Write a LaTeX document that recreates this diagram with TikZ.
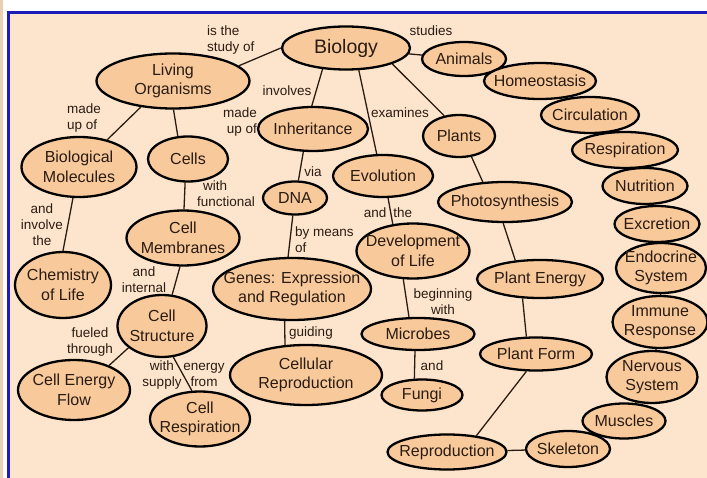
\documentclass[tikz,border=0pt]{standalone}
\usepackage{fontspec}
\setmainfont{Liberation Sans}
\usetikzlibrary{shapes.geometric}

\definecolor{paper}{HTML}{FDE5CD}
\definecolor{conceptfill}{HTML}{F8C99B}
\definecolor{ink}{HTML}{2A1C12}
\definecolor{rule}{HTML}{1C1CB8}
\definecolor{edgetan}{HTML}{E9CFB4}

\pgfdeclarelayer{bg}
\pgfdeclarelayer{links}
\pgfsetlayers{bg,links,main}

\tikzset{
  concept/.style={ellipse, draw=black, line width=2.3pt, fill=conceptfill, inner sep=0pt},
  ctext/.style={font=\fontsize{16}{19.5}\selectfont, text=ink, align=center, inner sep=0pt},
  linktext/.style={font=\fontsize{13.5}{16}\selectfont, text=ink, align=center, inner sep=0pt},
  link/.style={draw=ink, line width=1.3pt},
}

% concept ellipse: name, centre, width, height, text
\newcommand\conc[5]{\node[concept, minimum width=#3, minimum height=#4,
  label={[ctext]center:#5}] (#1) at (#2) {};}

\begin{document}
\begin{tikzpicture}[x=1pt, y=-1pt]
\useasboundingbox (0,0) rectangle (707,478);

% page and frame
\begin{pgfonlayer}{bg}
  \fill[white] (0,0) rectangle (707,478);
  \fill[edgetan] (0,0) rectangle (3,478);
  \fill[paper] (8,12) rectangle (707,478);
  \draw[rule, line width=3pt] (8.5,12.5) -- (707,12.5);
  \draw[rule, line width=3pt] (8.5,11) -- (8.5,478);
\end{pgfonlayer}

% concepts
\node[concept, minimum width=128, minimum height=43,
  label={[ctext, font=\fontsize{19.5}{22}\selectfont]center:Biology}] (bio) at (346,48) {};
\conc{liv}{173,81}{153}{55}{Living\\Organisms}
\conc{ani}{464,59}{84}{34}{Animals}
\conc{hom}{540,81}{112}{36}{Homeostasis}
\conc{cir}{590,115}{98}{36}{Circulation}
\conc{res}{625,150}{106}{36}{Respiration}
\conc{nut}{645,186}{85}{36}{Nutrition}
\conc{exc}{657,224}{85}{36}{Excretion}
\conc{endo}{661,268}{90}{50}{Endocrine\\System}
\conc{imm}{660,322}{95}{52}{Immune\\Response}
\conc{ner}{652,377}{91}{52}{Nervous\\System}
\conc{mus}{624,421}{83}{35}{Muscles}
\conc{ske}{568,449}{84}{36}{Skeleton}
\conc{rep}{447,452}{119}{35}{Reproduction}
\conc{pfo}{536,354}{112}{33}{Plant Form}
\conc{pen}{540,279}{126}{38}{Plant Energy}
\conc{pho}{505,202}{134}{40}{Photosynthesis}
\conc{pla}{459,136}{72}{42}{Plants}
\conc{evo}{383,176}{100}{42}{Evolution}
\conc{dev}{413,251}{113}{55}{Development\\of Life}
\conc{mic}{418,334}{113}{32}{Microbes}
\conc{fun}{422,395}{81}{31}{Fungi}
\conc{inh}{313,129}{110}{44}{Inheritance}
\conc{dna}{295,198}{64}{33}{DNA}
\conc{gen}{292,289}{158}{62}{Genes: Expression\\and Regulation}
\conc{cre}{306,375}{152}{60}{Cellular\\Reproduction}
\conc{cel}{188,159}{80}{45}{Cells}
\conc{mem}{183,238}{113}{55}{Cell\\Membranes}
\conc{bmo}{79,167}{115}{60}{Biological\\Molecules}
\conc{che}{63,285}{96}{66}{Chemistry\\of Life}
\conc{cst}{162,326}{89}{62}{Cell\\Structure}
\conc{cef}{74,390}{112}{60}{Cell Energy\\Flow}
\conc{crs}{200,419}{100}{55}{Cell\\Respiration}

% linking phrases
\node[linktext, align=left, anchor=west] (t1) at (207,40) {is the\\study of};
\node[linktext] (t2) at (431,31) {studies};
\node[linktext] (t3) at (287,91) {involves};
\node[linktext] (t4) at (400,113) {examines};
\node[linktext, align=left, anchor=west] (t5) at (67,118) {made\\up of};
\node[linktext, align=right, anchor=east] (t6) at (257,122) {made\\up of};
\node[linktext, align=left, anchor=west] (t7) at (197,194) {\hspace*{6pt}with\\functional};
\node[linktext] (t8) at (42,225) {and\\involve\\the};
\node[linktext] (t9) at (144,280) {and\\internal};
\node[linktext] (t10) at (90,342) {fueled\\through};
\node[linktext] (t11) at (162,375) {with\\supply};
\node[linktext] (t12) at (204,375) {energy\\from};
\node[linktext] (t13) at (313,172) {via};
\node[linktext, align=left, anchor=west] (t14) at (295,240) {by means\\of};
\node[linktext] (t15) at (311,333) {guiding};
\node[linktext] (t16) at (388,213) {and\hspace{7pt}the};
\node[linktext] (t17) at (443,302) {beginning\\with};
\node[linktext] (t18) at (432,366) {and};

% connectors
\begin{pgfonlayer}{links}
  \draw[link] (bio.west) -- (liv.13);
  \draw[link] (bio) -- (ani);
  \draw[link] (bio.222) -- (inh.93);
  \draw[link] (bio.-60) -- (evo.106);
  \draw[link] (bio.-19) -- (pla.126);
  \draw[link] (liv.219) -- (bmo.44);
  \draw[link] (liv.-89) -- (cel.114);
  \draw[link] (cel.-97) -- (mem.88);
  \draw[link] (bmo.-101) -- (che.90);
  \draw[link] (mem.-96) -- (cst.72);
  \draw[link] (cst.213) -- (cef.35);
  \draw[link] (cst.-70) -- (crs.106);
  \draw[link] (inh.-113) -- (dna.79);
  \draw[link] (dna.-97) -- (gen.97);
  \draw[link] (gen.-103) -- (cre.125);
  \draw[link] (evo.-77) -- (dev.127);
  \draw[link] (dev.-109) -- (mic.118);
  \draw[link] (mic.-100) -- (fun.115);
  \draw[link] (pla.-59) -- (pho.138);
  \draw[link] (pho.-95) -- (pen.143);
  \draw[link] (pen.-132) -- (pfo.119);
  \draw[link] (pfo.-119) -- (rep.29);
  \draw[link] (rep) -- (ske);
  \draw[link] (ani) -- (hom);
  \draw[link] (hom) -- (cir);
  \draw[link] (cir) -- (res);
  \draw[link] (res) -- (nut);
  \draw[link] (nut) -- (exc);
  \draw[link] (exc) -- (endo);
  \draw[link] (endo) -- (imm);
  \draw[link] (imm) -- (ner);
  \draw[link] (ner) -- (mus);
  \draw[link] (mus) -- (ske);
\end{pgfonlayer}
\end{tikzpicture}
\end{document}
